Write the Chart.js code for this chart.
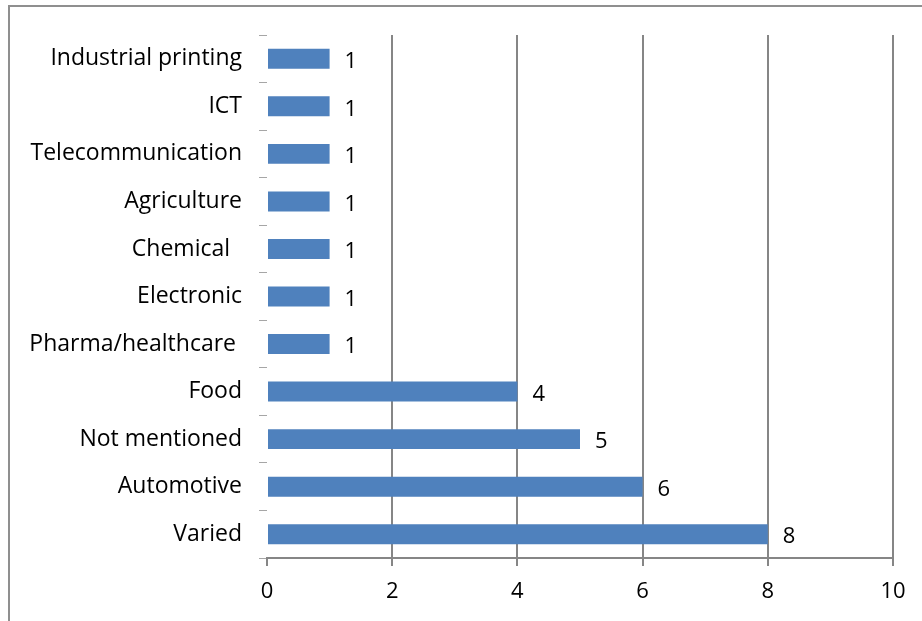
<!DOCTYPE html>
<html>
<head>
<meta charset="utf-8">
<script src="https://cdn.jsdelivr.net/npm/chart.js@4/dist/chart.umd.min.js"></script>
<style>
html,body{margin:0;padding:0;background:#fff;}
#wrap{width:922px;height:621px;position:relative;}
</style>
</head>
<body>
<div id="wrap"><canvas id="c" width="922" height="621"></canvas></div>
<script>
const categories = ["Industrial printing","ICT","Telecommunication","Agriculture","Chemical  ","Electronic","Pharma/healthcare ","Food","Not mentioned","Automotive","Varied"];
const values = [1,1,1,1,1,1,1,4,5,6,8];
const xTicks = [0,2,4,6,8,10];

const FONT = "'Open Sans', sans-serif";
const GRID = '#868686';

const framePlugin = {
  id: 'frame',
  afterDraw(chart) {
    const ctx = chart.ctx;
    ctx.save();
    ctx.strokeStyle = '#8f8f8f';
    ctx.lineWidth = 2;
    ctx.beginPath();
    ctx.moveTo(9, 621);
    ctx.lineTo(9, 6);
    ctx.lineTo(922, 6);
    ctx.stroke();
    ctx.restore();
  }
};

const labelPlugin = {
  id: 'vals',
  afterDatasetsDraw(chart) {
    const ctx = chart.ctx;
    const meta = chart.getDatasetMeta(0);
    ctx.save();
    ctx.font = "22px " + FONT;
    ctx.fillStyle = '#000';
    ctx.textAlign = 'left';
    ctx.textBaseline = 'middle';
    meta.data.forEach((bar, i) => {
      ctx.fillText(String(values[i]), bar.x + 15, bar.y + 3);
    });
    ctx.restore();
  }
};

new Chart(document.getElementById('c'), {
  type: 'bar',
  data: {
    labels: categories,
    datasets: [{
      data: values,
      backgroundColor: '#4f81bd',
      borderWidth: 0,
      barPercentage: 0.42,
      categoryPercentage: 1
    }]
  },
  options: {
    indexAxis: 'y',
    responsive: false,
    animation: false,
    events: [],
    layout: { padding: { top: 35, right: 29, left: 0, bottom: 0 } },
    plugins: { legend: { display: false }, tooltip: { enabled: false } },
    scales: {
      x: {
        min: 0, max: 10,
        afterBuildTicks(axis) { axis.ticks = xTicks.map(v => ({ value: v })); },
        afterFit(axis) { axis.height = 63; },
        grid: {
          color: c => (c.tick && c.tick.value === 0) ? 'rgba(0,0,0,0)' : GRID,
          tickColor: GRID,
          lineWidth: 2,
          tickLength: 8
        },
        border: { display: true, color: GRID, width: 2 },
        ticks: { color: '#000', font: { family: FONT, size: 22 }, padding: 13 }
      },
      y: {
        afterFit(axis) { axis.width = 267; },
        grid: {
          drawOnChartArea: false,
          offset: true,
          tickColor: '#a6a6a6',
          lineWidth: 1,
          tickLength: 8
        },
        border: { display: false },
        ticks: { color: '#000', font: { family: FONT, size: 23 }, padding: 17, autoSkip: false }
      }
    }
  },
  plugins: [framePlugin, labelPlugin]
});
</script>
</body>
</html>
